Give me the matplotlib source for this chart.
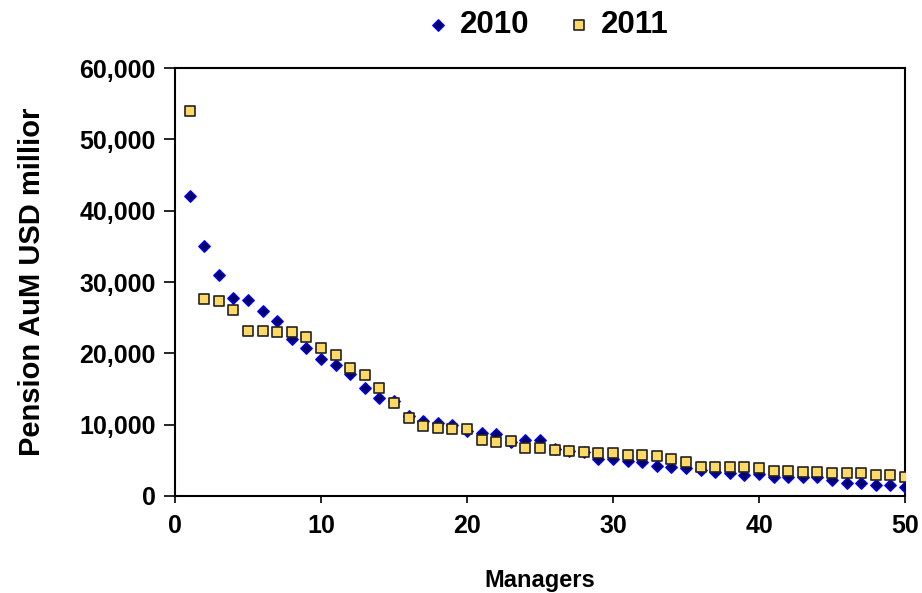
import matplotlib
matplotlib.use('Agg')
import matplotlib.pyplot as plt
from matplotlib.ticker import FuncFormatter

plt.rcParams['font.family'] = ['Liberation Sans', 'DejaVu Sans']
plt.rcParams['font.weight'] = 'bold'

managers = list(range(1, 51))

aum_2010 = [42000, 35000, 31000, 27700, 27500, 26000, 24600, 22000, 20700, 19200,
            18300, 17100, 15200, 13700, 13300, 11200, 10500, 10200, 10000, 9050,
            8900, 8700, 7600, 7800, 7800, 6600, 6350, 6100, 5250, 5250,
            4970, 4800, 4200, 4100, 3900, 3660, 3400, 3200, 2960, 3050,
            2700, 2700, 2600, 2600, 2250, 1800, 1800, 1550, 1550, 1300]

aum_2011 = [54000, 27600, 27400, 26100, 23200, 23200, 23000, 23000, 22350, 20800,
            19700, 17900, 16900, 15100, 13100, 10900, 9800, 9600, 9400, 9400,
            7800, 7600, 7700, 6750, 6750, 6500, 6300, 6100, 6050, 6050,
            5800, 5800, 5600, 5200, 4800, 4100, 4100, 4100, 4100, 3900,
            3500, 3500, 3400, 3400, 3200, 3200, 3200, 2960, 2960, 2700]

fig = plt.figure(figsize=(9.22, 5.93), dpi=100)
ax = fig.add_axes([0.1898, 0.1636, 0.7918, 0.7217])

ax.scatter(managers, aum_2010, marker='D', s=34, facecolor='#000066',
           edgecolor='#0000ff', linewidths=1.0, label='2010', zorder=3)
ax.scatter(managers, aum_2011, marker='s', s=44, facecolor='#ffd966',
           edgecolor='#222222', linewidths=1.2, label='2011', zorder=4)

ax.set_xlim(0, 50)
ax.set_ylim(0, 60000)
ax.set_xticks(range(0, 51, 10))
ax.set_yticks(range(0, 60001, 10000))
ax.yaxis.set_major_formatter(FuncFormatter(lambda v, p: f'{int(v):,}'))

for sp in ax.spines.values():
    sp.set_linewidth(1.5)
    sp.set_color('black')
ax.tick_params(axis='y', direction='out', length=8, width=1.2, labelsize=18, pad=6)
ax.tick_params(axis='x', direction='out', length=5, width=1.2, labelsize=18, pad=8)
for lab in ax.get_xticklabels() + ax.get_yticklabels():
    lab.set_fontweight('bold')

ax.set_xlabel('Managers', fontsize=17, fontweight='bold', labelpad=22)
ax.set_ylabel('Pension AuM USD millior', fontsize=21, fontweight='bold', labelpad=24)

fig.legend(loc='upper center', bbox_to_anchor=(0.59, 1.03), ncol=2, frameon=False,
           prop={'size': 22.5, 'weight': 'bold'}, handletextpad=0.1, columnspacing=1.0,
           handlelength=1.2, markerscale=1.0)

fig.savefig('out.png', dpi=100, facecolor='white')
